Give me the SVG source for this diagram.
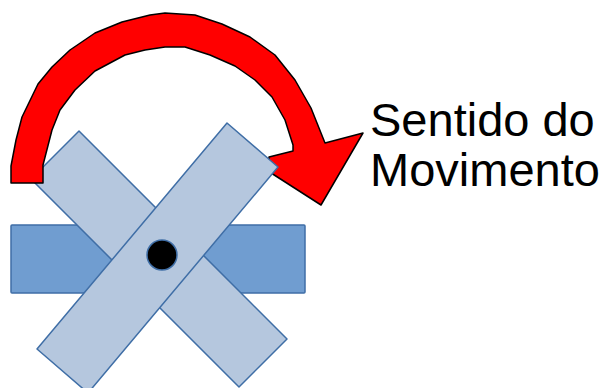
<svg xmlns="http://www.w3.org/2000/svg" width="603" height="388" viewBox="0 0 603 388">
<style>
.light{fill:#b5c7de;stroke:#3f6ea6;stroke-width:1.5;stroke-linejoin:round}
.t{font-family:"Liberation Sans",Arial,sans-serif;font-size:47px;fill:#000}
</style>
<rect width="603" height="388" fill="#fff"/>
<g id="bar"><rect x="11" y="225" width="294" height="68" fill="#709dd0" stroke="#3f6ea6" stroke-width="1.5" rx="1"/></g>
<g id="blade-a"><polygon class="light" points="79,131 287,339 239,387 31,179"/></g>
<g id="arrow"><path fill="#f00" stroke="#000" stroke-width="1.5" stroke-linejoin="round" d="M11,183 L11,166 L16,140 L22,117 L38,84 L52,67 L70,50 L95,33 L122,22 L150,15 L165,13 L195,15 L222,24 L250,37 L275,55 L295,80 L311,108 L325,143 L363,133 L321,205 L268,171 L269,157 L293,151 L293,145 L285,120 L272,97 L255,80 L235,66 L210,55 L185,47 L165,47 L145,50 L125,55 L95,71 L75,90 L60,110 L52,130 L43,165 L43,183 Z"/></g>
<g id="blade-b"><polygon class="light" points="227,123 278,167 88,393 37,349"/></g>
<g id="pivot"><circle cx="162" cy="255" r="15" fill="#000" stroke="#3f6ea6" stroke-width="1.5"/></g>
<g id="label"><text class="t" x="370" y="136">Sentido do</text><text class="t" x="370" y="186">Movimento</text></g>
</svg>
